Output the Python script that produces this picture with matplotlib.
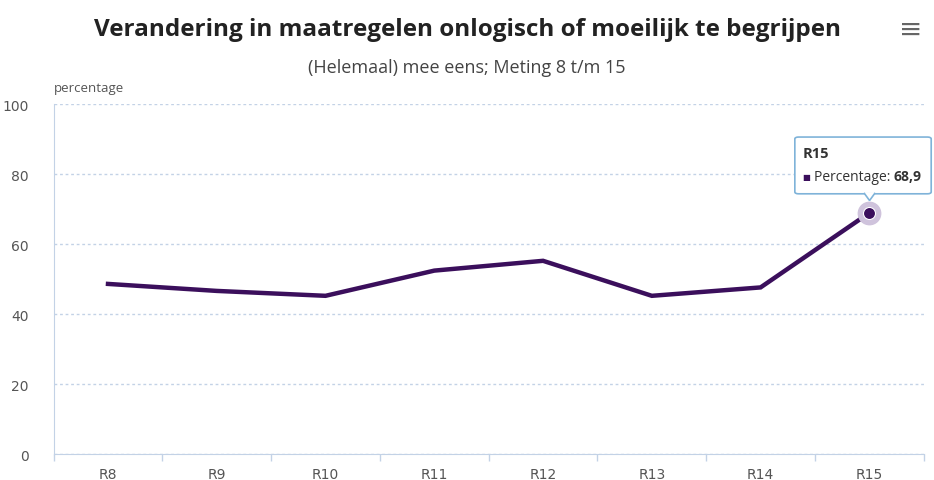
import numpy as np
import matplotlib.pyplot as plt
from matplotlib.patches import FancyBboxPatch, Polygon

# data
rondes = ['R8', 'R9', 'R10', 'R11', 'R12', 'R13', 'R14', 'R15']
percentage = [48.6, 46.6, 45.2, 52.4, 55.2, 45.2, 47.6, 68.9]
y_ticks = [0, 20, 40, 60, 80, 100]

line_color = '#3b0f5c'
grid_color = '#c3d2e6'
text_gray = '#555555'

fig = plt.figure(figsize=(9.34, 4.81), dpi=100)
ax = fig.add_axes([0.0574, 0.054, 0.9316, 0.7277])

x = np.arange(len(rondes))
ax.plot(x, percentage, color=line_color, lw=3.2, solid_joinstyle='miter', zorder=3)

# uitgelicht punt R15
ax.scatter(x[-1], percentage[-1], s=260, color='#cfc3dc', zorder=4)
ax.scatter(x[-1], percentage[-1], s=75, color=line_color, edgecolor='white', lw=0.8, zorder=5)

ax.set_xlim(-0.5, len(rondes) - 0.5)
ax.set_ylim(0, 100)
ax.set_yticks(y_ticks)
ax.set_xticks(x)
ax.set_xticklabels(rondes)
ax.set_xticks(np.arange(-0.5, len(rondes), 1), minor=True)
ax.tick_params(axis='x', which='major', length=0, pad=9, labelsize=10, labelcolor=text_gray)
ax.tick_params(axis='x', which='minor', length=5, color=grid_color, width=1)
ax.tick_params(axis='y', length=0, pad=18, labelsize=10, labelcolor=text_gray)
for lab in ax.get_yticklabels():
    lab.set_horizontalalignment('right')

ax.yaxis.grid(True, color=grid_color, ls=(0, (2, 2)), lw=1)
ax.set_axisbelow(True)
for s in ['top', 'right']:
    ax.spines[s].set_visible(False)
ax.spines['left'].set_color(grid_color)
ax.spines['bottom'].set_color(grid_color)

# titels en labels
fig.text(0.5, 0.937, 'Verandering in maatregelen onlogisch of moeilijk te begrijpen',
         ha='center', va='center', fontsize=17.5, fontweight='bold', color='#222222',
         family='Open Sans')
fig.text(0.5, 0.858, '(Helemaal) mee eens; Meting 8 t/m 15',
         ha='center', va='center', fontsize=13, color='#444444', family='Open Sans')
fig.text(0.058, 0.817, 'percentage', ha='left', va='center', fontsize=9.5,
         color=text_gray, family='Open Sans')
fig.text(0.975, 0.937, '≡', ha='center', va='center', fontsize=20, color='#666666')

# tooltip
tip_x0, tip_y0 = 0.851, 0.595
box = FancyBboxPatch((tip_x0, tip_y0), 0.146, 0.118, boxstyle='round,pad=0,rounding_size=0.004',
                     transform=fig.transFigure, facecolor='white', edgecolor='#7fb3d9',
                     lw=1.2, zorder=10)
fig.patches.append(box)
pointer = Polygon([(0.925, tip_y0 + 0.002), (0.931, tip_y0 - 0.014), (0.937, tip_y0 + 0.002)],
                  closed=False, transform=fig.transFigure, facecolor='white',
                  edgecolor='#7fb3d9', lw=1.2, zorder=11)
fig.patches.append(pointer)
fig.text(tip_x0 + 0.008, tip_y0 + 0.084, rondes[-1], fontsize=10.5, fontweight='bold',
         color='#333333', va='center', family='Open Sans', zorder=12)
fig.text(tip_x0 + 0.008, tip_y0 + 0.036, '■', fontsize=6, color=line_color,
         va='center', zorder=12)
fig.text(tip_x0 + 0.021, tip_y0 + 0.036, 'Percentage: ', fontsize=10,
         color='#333333', va='center', family='Open Sans', zorder=12)
fig.text(tip_x0 + 0.106, tip_y0 + 0.036, str(percentage[-1]).replace('.', ','),
         fontsize=10, fontweight='bold', color='#333333', va='center',
         family='Open Sans', zorder=12)

fig.savefig('out.png', dpi=100, facecolor='white')
